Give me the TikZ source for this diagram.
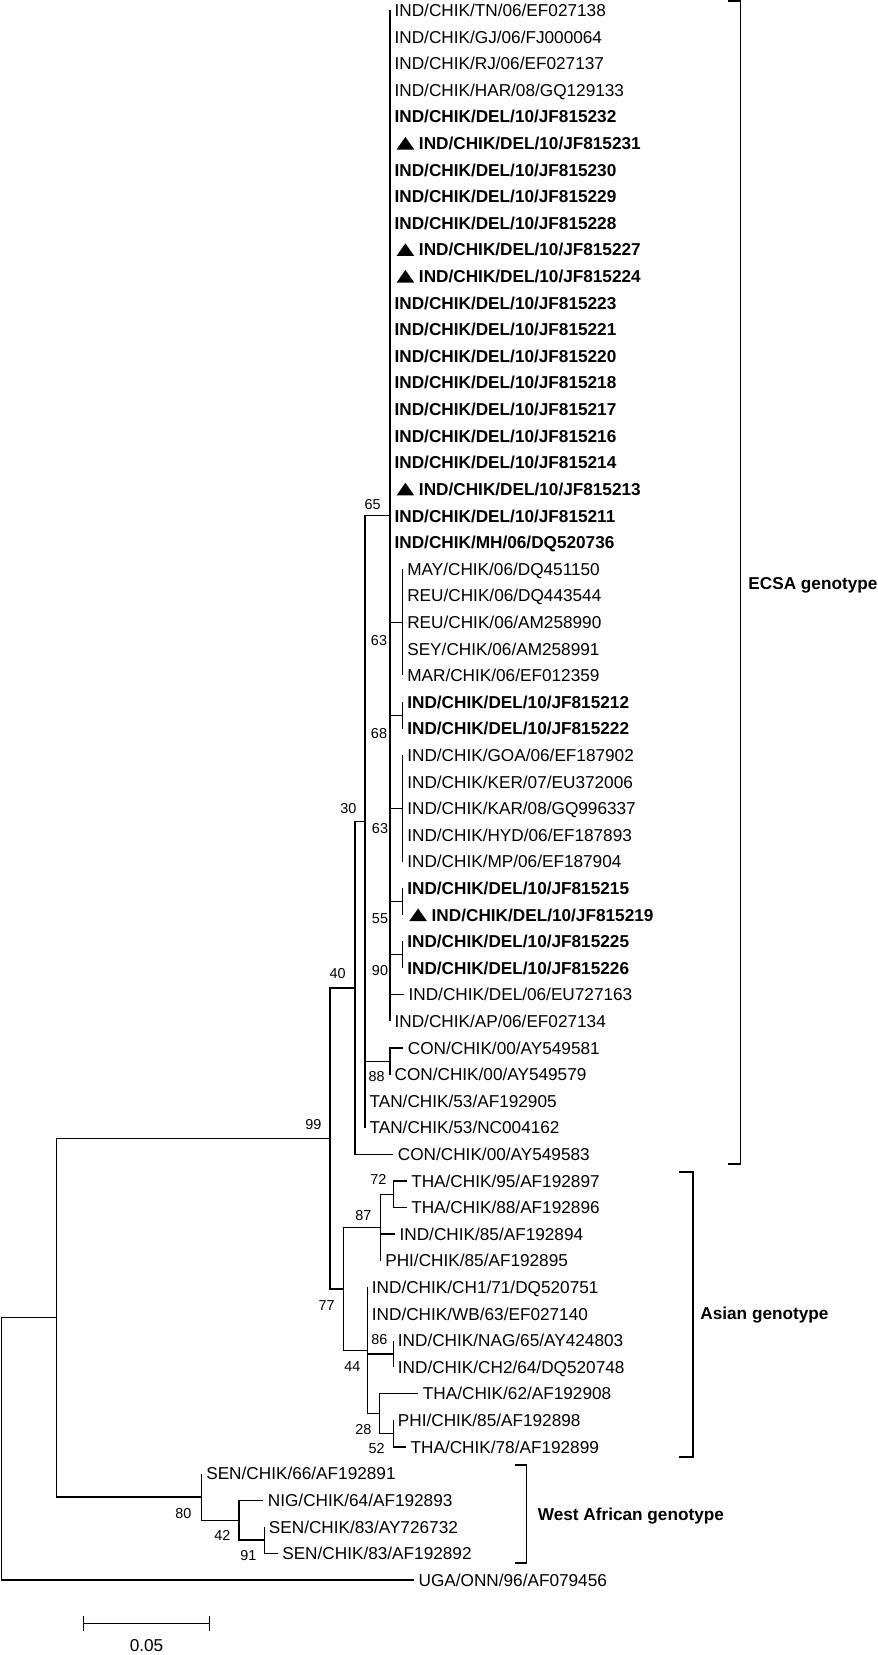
\documentclass[tikz,border=0pt]{standalone}
\usepackage{fontspec}
\setmainfont{Liberation Sans}
\newcommand{\leaffont}{\fontsize{8.6}{10}\selectfont}
\newcommand{\bootfont}{\fontsize{7.2}{8}\selectfont}
\newcommand{\tri}{\hspace{1pt}\tikz\fill (0,0) -- (8.8pt,0) -- (4.4pt,6.3pt) -- cycle;\ }

\begin{document}
\begin{tikzpicture}[
    x=0.5pt, y=-0.5pt,
    branch/.style={draw, line width=0.65pt},
    leaf/.style={anchor=west, inner xsep=2.3pt, inner ysep=0pt, outer sep=0pt, text height=6.2pt, text depth=0pt, font=\leaffont},
    bleaf/.style={leaf, font=\leaffont\bfseries},
    boot/.style={inner sep=0pt, text height=5.15pt, text depth=0pt, font=\bootfont},
    bracket/.style={draw, line width=0.85pt},
    genotype/.style={anchor=west, inner sep=0pt, text height=6.2pt, text depth=0pt, font=\leaffont\bfseries}
]
\useasboundingbox (0,0) rectangle (878,1655);

\coordinate (root) at (1.7,1448.85);
\coordinate (nin) at (56.7,1317.70);
\coordinate (n99) at (330,1138.53);
\coordinate (n40) at (355,988.04);
\coordinate (n30) at (365,821.76);
\coordinate (n65) at (390,515.80);
\coordinate (n63a) at (402.7,622.22);
\coordinate (n68) at (402.7,715.34);
\coordinate (n63b) at (402.7,808.45);
\coordinate (n55) at (402.7,901.57);
\coordinate (n90) at (402.7,954.78);
\coordinate (n88) at (390,1061.20);
\coordinate (n77) at (343.3,1289.01);
\coordinate (n87) at (380.7,1227.49);
\coordinate (n72) at (393.3,1194.23);
\coordinate (n44) at (367.3,1350.53);
\coordinate (n86) at (393.3,1353.86);
\coordinate (n28) at (379.3,1413.72);
\coordinate (n52) at (393.3,1433.67);
\coordinate (n80) at (201.7,1496.86);
\coordinate (n42) at (239,1520.14);
\coordinate (n91) at (264.3,1540.09);

\node[leaf] (t1) at (390,10.30) {IND/CHIK/TN/06/EF027138};
\node[leaf] (t2) at (390,36.91) {IND/CHIK/GJ/06/FJ000064};
\node[leaf] (t3) at (390,63.51) {IND/CHIK/RJ/06/EF027137};
\node[leaf] (t4) at (390,90.12) {IND/CHIK/HAR/08/GQ129133};
\node[bleaf] (t5) at (390,116.72) {IND/CHIK/DEL/10/JF815232};
\node[bleaf] (t6) at (390,143.33) {\tri IND/CHIK/DEL/10/JF815231};
\node[bleaf] (t7) at (390,169.93) {IND/CHIK/DEL/10/JF815230};
\node[bleaf] (t8) at (390,196.54) {IND/CHIK/DEL/10/JF815229};
\node[bleaf] (t9) at (390,223.14) {IND/CHIK/DEL/10/JF815228};
\node[bleaf] (t10) at (390,249.75) {\tri IND/CHIK/DEL/10/JF815227};
\node[bleaf] (t11) at (390,276.35) {\tri IND/CHIK/DEL/10/JF815224};
\node[bleaf] (t12) at (390,302.96) {IND/CHIK/DEL/10/JF815223};
\node[bleaf] (t13) at (390,329.56) {IND/CHIK/DEL/10/JF815221};
\node[bleaf] (t14) at (390,356.17) {IND/CHIK/DEL/10/JF815220};
\node[bleaf] (t15) at (390,382.77) {IND/CHIK/DEL/10/JF815218};
\node[bleaf] (t16) at (390,409.38) {IND/CHIK/DEL/10/JF815217};
\node[bleaf] (t17) at (390,435.98) {IND/CHIK/DEL/10/JF815216};
\node[bleaf] (t18) at (390,462.59) {IND/CHIK/DEL/10/JF815214};
\node[bleaf] (t19) at (390,489.19) {\tri IND/CHIK/DEL/10/JF815213};
\node[bleaf] (t20) at (390,515.80) {IND/CHIK/DEL/10/JF815211};
\node[bleaf] (t21) at (390,542.40) {IND/CHIK/MH/06/DQ520736};
\node[leaf] (t22) at (402.7,569.01) {MAY/CHIK/06/DQ451150};
\node[leaf] (t23) at (402.7,595.61) {REU/CHIK/06/DQ443544};
\node[leaf] (t24) at (402.7,622.22) {REU/CHIK/06/AM258990};
\node[leaf] (t25) at (402.7,648.82) {SEY/CHIK/06/AM258991};
\node[leaf] (t26) at (402.7,675.43) {MAR/CHIK/06/EF012359};
\node[bleaf] (t27) at (402.7,702.03) {IND/CHIK/DEL/10/JF815212};
\node[bleaf] (t28) at (402.7,728.64) {IND/CHIK/DEL/10/JF815222};
\node[leaf] (t29) at (402.7,755.24) {IND/CHIK/GOA/06/EF187902};
\node[leaf] (t30) at (402.7,781.85) {IND/CHIK/KER/07/EU372006};
\node[leaf] (t31) at (402.7,808.45) {IND/CHIK/KAR/08/GQ996337};
\node[leaf] (t32) at (402.7,835.06) {IND/CHIK/HYD/06/EF187893};
\node[leaf] (t33) at (402.7,861.66) {IND/CHIK/MP/06/EF187904};
\node[bleaf] (t34) at (402.7,888.27) {IND/CHIK/DEL/10/JF815215};
\node[bleaf] (t35) at (402.7,914.87) {\tri IND/CHIK/DEL/10/JF815219};
\node[bleaf] (t36) at (402.7,941.48) {IND/CHIK/DEL/10/JF815225};
\node[bleaf] (t37) at (402.7,968.08) {IND/CHIK/DEL/10/JF815226};
\node[leaf] (t38) at (404,994.69) {IND/CHIK/DEL/06/EU727163};
\node[leaf] (t39) at (390,1021.29) {IND/CHIK/AP/06/EF027134};
\node[leaf] (t40) at (403.3,1047.90) {CON/CHIK/00/AY549581};
\node[leaf] (t41) at (390,1074.50) {CON/CHIK/00/AY549579};
\node[leaf] (t42) at (365,1101.11) {TAN/CHIK/53/AF192905};
\node[leaf] (t43) at (365,1127.71) {TAN/CHIK/53/NC004162};
\node[leaf] (t44) at (393.3,1154.32) {CON/CHIK/00/AY549583};
\node[leaf] (t45) at (406.7,1180.92) {THA/CHIK/95/AF192897};
\node[leaf] (t46) at (406.7,1207.53) {THA/CHIK/88/AF192896};
\node[leaf] (t47) at (395,1234.13) {IND/CHIK/85/AF192894};
\node[leaf] (t48) at (380.7,1260.74) {PHI/CHIK/85/AF192895};
\node[leaf] (t49) at (367.3,1287.34) {IND/CHIK/CH1/71/DQ520751};
\node[leaf] (t50) at (367.3,1313.95) {IND/CHIK/WB/63/EF027140};
\node[leaf] (t51) at (393.3,1340.55) {IND/CHIK/NAG/65/AY424803};
\node[leaf] (t52) at (393.3,1367.16) {IND/CHIK/CH2/64/DQ520748};
\node[leaf] (t53) at (418.3,1393.76) {THA/CHIK/62/AF192908};
\node[leaf] (t54) at (393.3,1420.37) {PHI/CHIK/85/AF192898};
\node[leaf] (t55) at (406,1446.97) {THA/CHIK/78/AF192899};
\node[leaf] (t56) at (201.7,1473.58) {SEN/CHIK/66/AF192891};
\node[leaf] (t57) at (263.3,1500.18) {NIG/CHIK/64/AF192893};
\node[leaf] (t58) at (264.3,1526.79) {SEN/CHIK/83/AY726732};
\node[leaf] (t59) at (277.7,1553.39) {SEN/CHIK/83/AF192892};
\node[leaf] (t60) at (414,1580.00) {UGA/ONN/96/AF079456};

\foreach \p/\c in {root/nin, root/t60, nin/n99, nin/n80, n99/n40, n99/n77,
    n40/n30, n40/t44, n30/n65, n30/n88, n30/t42, n30/t43, n88/t40, n88/t41,
    n65/n63a, n65/n68, n65/n63b, n65/n55, n65/n90, n65/t38, n65/t39,
    n63a/t22, n63a/t23, n63a/t24, n63a/t25, n63a/t26, n68/t27, n68/t28,
    n63b/t29, n63b/t30, n63b/t31, n63b/t32, n63b/t33, n55/t34, n55/t35,
    n90/t36, n90/t37, n77/n87, n77/n44, n87/n72, n87/t47, n87/t48,
    n72/t45, n72/t46, n44/t49, n44/t50, n44/n86, n44/n28, n86/t51, n86/t52,
    n28/t53, n28/n52, n52/t54, n52/t55, n80/t56, n80/n42, n42/t57, n42/n91,
    n91/t58, n91/t59}
    \draw[branch] (\p) |- (\c);
\foreach \i in {1,...,21}
    \draw[branch] (n65) |- (t\i);

\node[boot] (b65) at (372.7,504) {65};
\node[boot] (b63a) at (379,640) {63};
\node[boot] (b68) at (379,733) {68};
\node[boot] (b63b) at (380,828) {63};
\node[boot] (b55) at (380,918) {55};
\node[boot] (b90) at (380,970) {90};
\node[boot] (b30) at (348.3,808.3) {30};
\node[boot] (b40) at (337.7,973.3) {40};
\node[boot] (b88) at (376.7,1076.7) {88};
\node[boot] (b99) at (313.3,1124) {99};
\node[boot] (b72) at (378.3,1179.3) {72};
\node[boot] (b87) at (363.3,1215) {87};
\node[boot] (b77) at (326.7,1305) {77};
\node[boot] (b86) at (379.3,1339.3) {86};
\node[boot] (b44) at (352.3,1366.7) {44};
\node[boot] (b28) at (363.3,1429.3) {28};
\node[boot] (b52) at (376.7,1448.3) {52};
\node[boot] (b80) at (183.3,1513.3) {80};
\node[boot] (b42) at (222.3,1535) {42};
\node[boot] (b91) at (248.3,1555) {91};

\draw[bracket] (728,0.7) -- (740.5,0.7) -- (740.5,1164) -- (728,1164);
\node[genotype] (ecsa) at (748,583) {ECSA genotype};
\draw[bracket] (679.3,1171.7) -- (692.7,1171.7) -- (692.7,1456.7) -- (679.3,1456.7);
\node[genotype] (asian) at (700,1313.3) {Asian genotype};
\draw[bracket] (514.5,1465) -- (526.6,1465) -- (526.6,1562.7) -- (514.5,1562.7);
\node[genotype] (westafr) at (537.5,1514) {West African genotype};

\draw[branch] (83.5,1616) -- (83.5,1631) (83.5,1623.3) -- (209.5,1623.3) (209.5,1616) -- (209.5,1631);
\node[inner sep=0pt, text height=6.2pt, text depth=0pt, font=\leaffont] (scale) at (146.5,1645) {0.05};
\end{tikzpicture}
\end{document}
